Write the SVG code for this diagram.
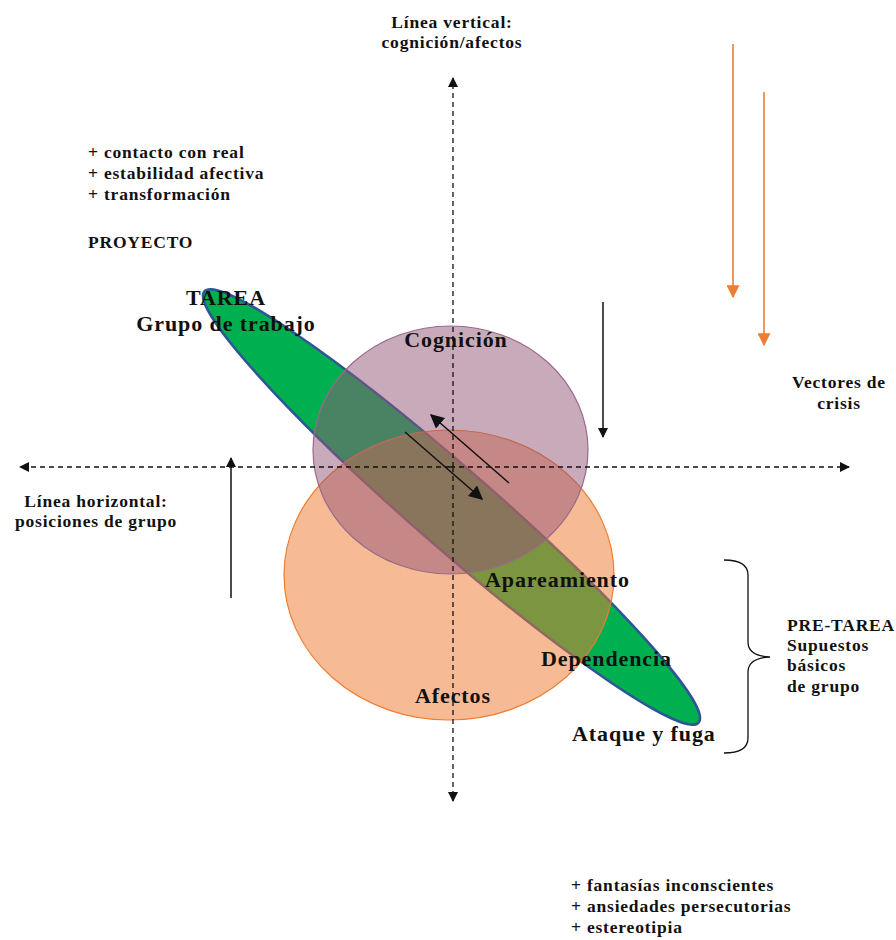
<svg xmlns="http://www.w3.org/2000/svg" width="896" height="940" viewBox="0 0 896 940">
<style>
.lbl text{font-weight:bold;fill:#111}
.s{font-size:17.5px;letter-spacing:0.8px}
.b{font-size:22px;letter-spacing:0.9px}
.m{text-anchor:middle}
.dash{stroke:#111;stroke-width:1.3;stroke-dasharray:5,4;fill:none}
.ar{stroke:#111;stroke-width:1.5;fill:none}
.or{stroke:#ed7d31;stroke-width:1.6;fill:none}
</style>
<defs>
<marker id="ah" viewBox="0 0 10 10" refX="9" refY="5" markerWidth="10" markerHeight="10" markerUnits="userSpaceOnUse" orient="auto"><path d="M0,0 L10,5 L0,10 z" fill="#111"/></marker>
<marker id="ah2" viewBox="0 0 10 10" refX="9" refY="5" markerWidth="14" markerHeight="14" markerUnits="userSpaceOnUse" orient="auto"><path d="M0,0 L10,5 L0,10 z" fill="#111"/></marker>
<marker id="ao" viewBox="0 0 10 10" refX="9" refY="5" markerWidth="13" markerHeight="13" markerUnits="userSpaceOnUse" orient="auto"><path d="M0,0 L10,5 L0,10 z" fill="#ed7d31"/></marker>
</defs>
<g id="shapes">
<ellipse id="tarea-ellipse" cx="451.5" cy="507" rx="328" ry="39.5" transform="rotate(41.1 451.5 507)" fill="#00b050" stroke="#2f5597" stroke-width="2.5"/>
<ellipse id="afectos-ellipse" cx="449" cy="575" rx="165" ry="145" fill="#ed7d31" fill-opacity="0.52" stroke="#ed7d31" stroke-width="1.2"/>
<ellipse id="cognicion-ellipse" cx="450.5" cy="450" rx="137.5" ry="124" fill="#935678" fill-opacity="0.5" stroke="#9a6a8a" stroke-width="1.2"/>
</g>
<g id="connectors">
<line class="dash" x1="453" y1="467" x2="453" y2="78" marker-end="url(#ah)"/>
<line class="dash" x1="453" y1="467" x2="453" y2="801" marker-end="url(#ah)"/>
<line class="dash" x1="450" y1="467" x2="20" y2="467" marker-end="url(#ah)"/>
<line class="dash" x1="450" y1="467" x2="849" y2="467" marker-end="url(#ah)"/>
<line class="ar" x1="509" y1="483" x2="431" y2="415" marker-end="url(#ah2)"/>
<line class="ar" x1="405" y1="432" x2="482" y2="499" marker-end="url(#ah2)"/>
<line class="ar" x1="231" y1="598" x2="231" y2="458" marker-end="url(#ah)"/>
<line class="ar" x1="603" y1="302" x2="603" y2="437" marker-end="url(#ah)"/>
<line class="or" x1="733" y1="44" x2="733" y2="297" marker-end="url(#ao)"/>
<line class="or" x1="764" y1="92" x2="764" y2="345" marker-end="url(#ao)"/>
<path id="brace" d="M724,560 Q748,560 748,575 L748,642 Q748,656 770,657 Q748,658 748,672 L748,738 Q748,753 724,753" fill="none" stroke="#111" stroke-width="1.3"/>
</g>
<g id="labels" class="lbl" font-family="Liberation Serif, Times New Roman, serif">
<text class="s m" x="452" y="28">Línea vertical:</text>
<text class="s m" x="452" y="48">cognición/afectos</text>
<text class="s" x="88" y="158">+ contacto con real</text>
<text class="s" x="88" y="179">+ estabilidad afectiva</text>
<text class="s" x="88" y="200">+ transformación</text>
<text class="s" x="88" y="248">PROYECTO</text>
<text class="b m" x="226" y="305">TAREA</text>
<text class="b m" x="226" y="331">Grupo de trabajo</text>
<text class="b m" x="456" y="347">Cognición</text>
<text class="s m" x="839" y="388">Vectores de</text>
<text class="s m" x="839" y="409">crisis</text>
<text class="s m" x="96" y="507">Línea horizontal:</text>
<text class="s m" x="96" y="527">posiciones de grupo</text>
<text class="b" x="485" y="587">Apareamiento</text>
<text class="b" x="541" y="666">Dependencia</text>
<text class="b m" x="453" y="703">Afectos</text>
<text class="b" x="572" y="741">Ataque y fuga</text>
<text class="s" x="787" y="631">PRE-TAREA</text>
<text class="s" x="787" y="651">Supuestos</text>
<text class="s" x="787" y="671">básicos</text>
<text class="s" x="787" y="692">de grupo</text>
<text class="s" x="571" y="891">+ fantasías inconscientes</text>
<text class="s" x="571" y="912">+ ansiedades persecutorias</text>
<text class="s" x="571" y="933">+ estereotipia</text>
</g>
</svg>
